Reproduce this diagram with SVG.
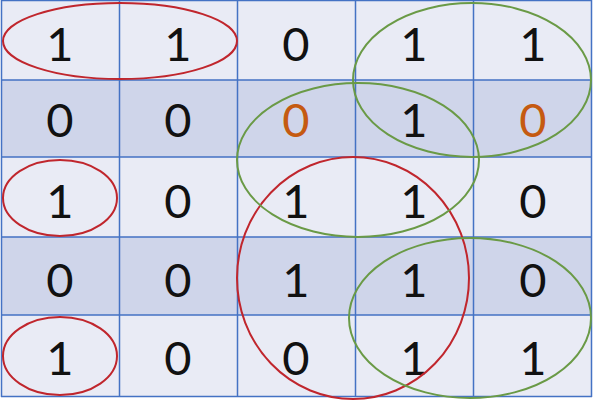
<svg xmlns="http://www.w3.org/2000/svg" width="594" height="400" viewBox="0 0 594 400">
<style>
.l{fill:#e9ebf5}
.d{fill:#cfd5ea}
.g{stroke:#4472c4;stroke-width:1.5;fill:none}
.t{font-family:Lato,"Liberation Sans",sans-serif;font-size:47px;fill:#111;text-anchor:middle}
.o{fill:#c55a11}
.r{fill:none;stroke:#c0262d;stroke-width:2}
.gr{fill:none;stroke:#6a9a46;stroke-width:2}
</style>
<rect width="594" height="400" fill="#ffffff"/>
<g id="grid">
<rect class="l" x="1" y="0" width="591" height="80"/>
<rect class="d" x="1" y="80" width="591" height="77"/>
<rect class="l" x="1" y="157" width="591" height="80"/>
<rect class="d" x="1" y="237" width="591" height="78"/>
<rect class="l" x="1" y="315" width="591" height="82"/>
<path class="g" d="M1.5 0V397M119.5 0V397M237.5 0V397M355.5 0V397M473.5 0V397M591.5 0V397M1 0.5H592M1 80H592M1 157H592M1 237H592M1 315H592M1 396.5H592"/>
</g>
<g id="cells">
<text class="t" x="60" y="61">1</text><text class="t" x="178" y="61">1</text><text class="t" x="296" y="61">0</text><text class="t" x="414" y="61">1</text><text class="t" x="533" y="61">1</text>
<text class="t" x="60" y="137">0</text><text class="t" x="178" y="137">0</text><text class="t o" x="296" y="137">0</text><text class="t" x="414" y="137">1</text><text class="t o" x="533" y="137">0</text>
<text class="t" x="60" y="218">1</text><text class="t" x="178" y="218">0</text><text class="t" x="296" y="218">1</text><text class="t" x="414" y="218">1</text><text class="t" x="533" y="218">0</text>
<text class="t" x="60" y="297">0</text><text class="t" x="178" y="297">0</text><text class="t" x="296" y="297">1</text><text class="t" x="414" y="297">1</text><text class="t" x="533" y="297">0</text>
<text class="t" x="60" y="375">1</text><text class="t" x="178" y="375">0</text><text class="t" x="296" y="375">0</text><text class="t" x="414" y="375">1</text><text class="t" x="533" y="375">1</text>
</g>
<g id="groups">
<ellipse class="r" cx="120" cy="41" rx="117" ry="38"/>
<ellipse class="r" cx="60" cy="198" rx="57" ry="38"/>
<ellipse class="r" cx="60" cy="356" rx="57" ry="39"/>
<ellipse class="r" cx="353" cy="278" rx="116" ry="121"/>
<ellipse class="gr" cx="472" cy="80" rx="119" ry="77"/>
<ellipse class="gr" cx="358" cy="160" rx="121" ry="77"/>
<ellipse class="gr" cx="470" cy="318" rx="121" ry="80"/>
</g>
</svg>
